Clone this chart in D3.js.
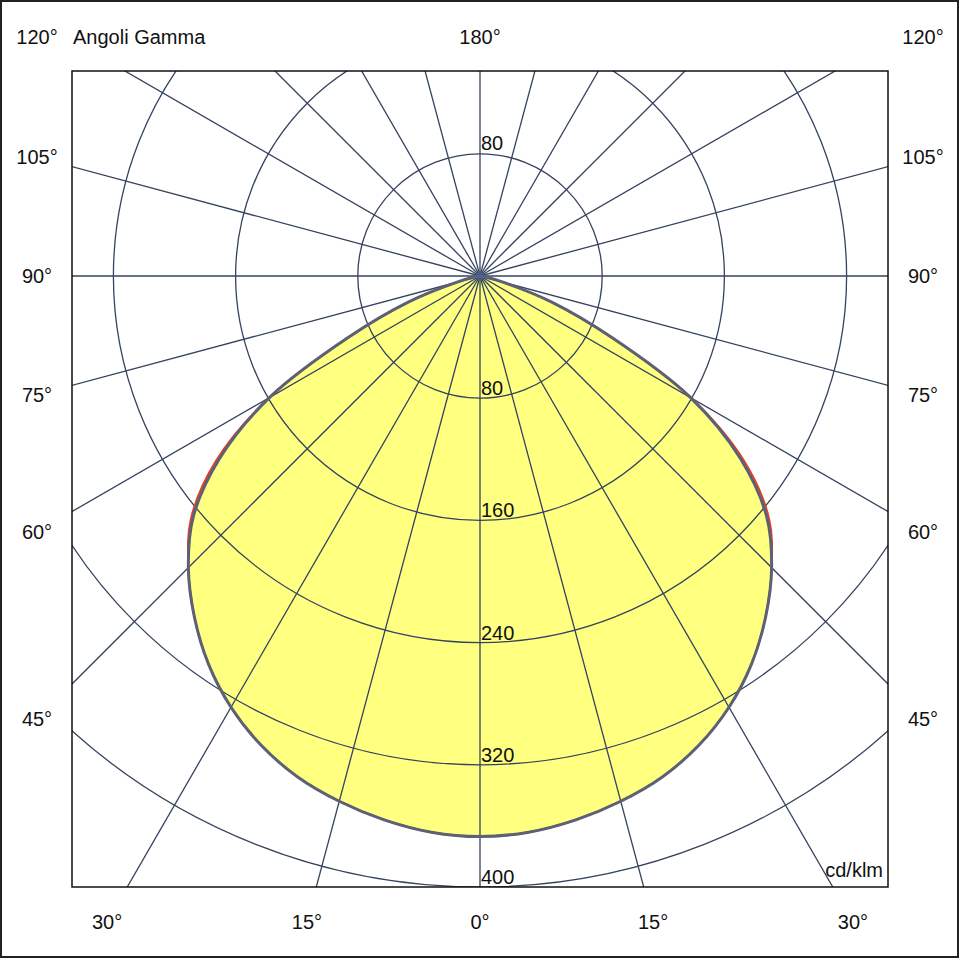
<!DOCTYPE html>
<html>
<head>
<meta charset="utf-8">
<script src="https://cdn.jsdelivr.net/npm/d3@7"></script>
<style>
  body { margin: 0; background: #fff; }
  text { font-family: "Liberation Sans", Arial, sans-serif; font-size: 20px; fill: #111; }
</style>
</head>
<body>
<div id="chart"></div>
<script>
// Gamma angles (degrees from nadir) and luminous intensity in cd/klm
const gammas = [0, 5, 10, 15, 20, 25, 30, 35, 40, 45, 50, 55, 60, 65, 70, 75, 80, 85, 90];
const planeC0 = [367, 365.5, 361.5, 356, 349, 339, 326, 310, 291, 270, 245, 208, 159, 95, 50, 15, 3, 0, 0];
const planeC90 = [367, 365.5, 361.5, 356, 349, 339, 326, 310, 291, 270, 247, 211, 159.5, 95, 50, 15, 3, 0, 0];

const ringValues = [80, 160, 240, 320, 400];
const bottomLabels = [30, 15, 0, 15, 30];
const sideLabels = [45, 60, 75, 90, 105, 120];
const topLabel = 180;

// Layout
const W = 960, H = 960;
const box = { x0: 72, y0: 71, x1: 888, y1: 887 };
const r = d3.scaleLinear().domain([0, 400]).range([0, 611]);
const cx = (box.x0 + box.x1) / 2;
const cy = box.y1 - r(400);
const lab = { x0: 37, x1: 923, y0: 37, y1: 922 };

const svg = d3.select("#chart").append("svg")
  .attr("width", W)
  .attr("height", H);

// Outer frame
svg.append("rect")
  .attr("x", 1).attr("y", 1)
  .attr("width", W - 3).attr("height", H - 4)
  .attr("fill", "#fff")
  .attr("stroke", "#222")
  .attr("stroke-width", 2);

svg.append("clipPath").attr("id", "plotClip")
  .append("rect")
  .attr("x", box.x0).attr("y", box.y0)
  .attr("width", box.x1 - box.x0).attr("height", box.y1 - box.y0);

const plot = svg.append("g").attr("clip-path", "url(#plotClip)");
const g = plot.append("g").attr("transform", `translate(${cx},${cy})`);

// Build a closed outline: right side from 90 down to 0, then left side 0 -> 90
function outline(values) {
  const pts = [];
  for (let i = gammas.length - 1; i >= 0; i--) pts.push([Math.PI - gammas[i] * Math.PI / 180, values[i]]);
  for (let i = 1; i < gammas.length; i++) pts.push([Math.PI + gammas[i] * Math.PI / 180, values[i]]);
  return pts;
}

const radial = d3.lineRadial()
  .angle(d => d[0])
  .radius(d => r(d[1]))
  .curve(d3.curveCatmullRom.alpha(0.5));

// Yellow fill
g.append("path")
  .attr("d", radial(outline(planeC0)) + "Z")
  .attr("fill", "#ffff80")
  .attr("stroke", "none");

// Grid: rings
const gridColor = "#34435f";
g.selectAll(".ring")
  .data(ringValues)
  .enter().append("circle")
  .attr("class", "ring")
  .attr("r", d => r(d))
  .attr("fill", "none")
  .attr("stroke", gridColor)
  .attr("stroke-width", 1.3);

// Grid: rays every 15 degrees
const rays = d3.range(0, 360, 15);
g.selectAll(".ray")
  .data(rays)
  .enter().append("line")
  .attr("class", "ray")
  .attr("x1", 0).attr("y1", 0)
  .attr("x2", d => 1200 * Math.sin(d * Math.PI / 180))
  .attr("y2", d => 1200 * Math.cos(d * Math.PI / 180))
  .attr("stroke", gridColor)
  .attr("stroke-width", 1.3);

g.append("circle")
  .attr("r", 4)
  .attr("fill", "#3d5a96");

// Intensity curves
g.append("path")
  .attr("d", radial(outline(planeC90)))
  .attr("fill", "none")
  .attr("stroke", "#e8401c")
  .attr("stroke-width", 2);

g.append("path")
  .attr("d", radial(outline(planeC0)))
  .attr("fill", "none")
  .attr("stroke", "#5c6178")
  .attr("stroke-width", 3)
  .attr("stroke-linejoin", "round");

// Ring labels
g.selectAll(".ringLabel")
  .data(ringValues)
  .enter().append("text")
  .attr("class", "ringLabel")
  .attr("x", 1)
  .attr("y", d => r(d) - 3)
  .text(d => d);

g.append("text")
  .attr("x", 1)
  .attr("y", -r(ringValues[0]) - 4)
  .text(ringValues[0]);

// Plot box
svg.append("rect")
  .attr("x", box.x0).attr("y", box.y0)
  .attr("width", box.x1 - box.x0).attr("height", box.y1 - box.y0)
  .attr("fill", "none")
  .attr("stroke", "#111")
  .attr("stroke-width", 1.5);

// Angle labels around the box
function addLabel(x, y, t) {
  svg.append("text")
    .attr("x", x).attr("y", y + 7)
    .attr("text-anchor", "middle")
    .text(t + "°");
}

bottomLabels.forEach((a, i) => {
  const side = i < 2 ? -1 : 1;
  addLabel(cx + side * (lab.y1 - cy) * Math.tan(a * Math.PI / 180), lab.y1, a);
});

sideLabels.forEach(a => {
  const dy = (lab.x1 - cx) / Math.tan(a * Math.PI / 180);
  const y = Math.max(lab.y0, Math.min(lab.y1, cy + dy));
  addLabel(lab.x0, y, a);
  addLabel(lab.x1, y, a);
});

addLabel(cx, lab.y0, topLabel);

svg.append("text")
  .attr("x", box.x0 + 1)
  .attr("y", lab.y0 + 7)
  .text("Angoli Gamma");

svg.append("text")
  .attr("x", box.x1 - 5)
  .attr("y", box.y1 - 10)
  .attr("text-anchor", "end")
  .text("cd/klm");
</script>
</body>
</html>
